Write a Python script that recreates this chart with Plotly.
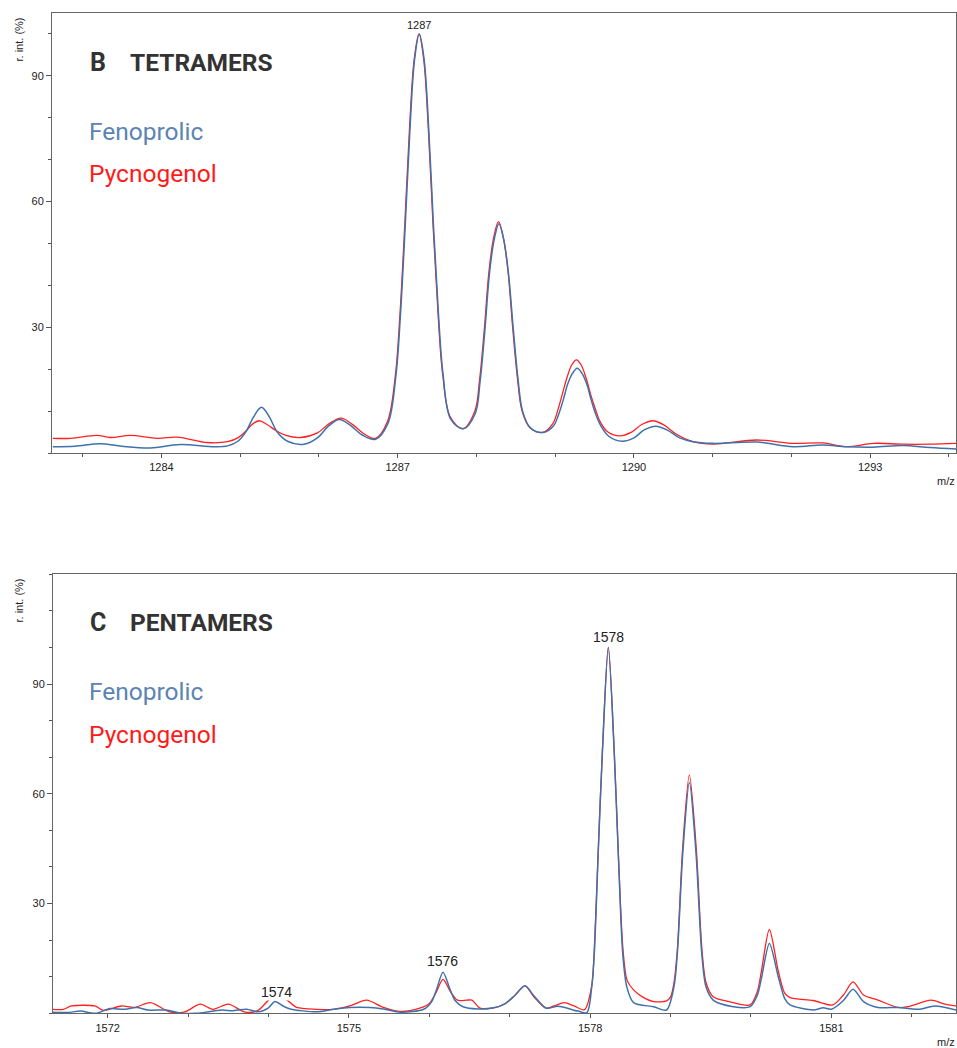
import plotly.graph_objects as go

W, H = 957, 1048

# ---------------- data: B TETRAMERS ----------------
tet_feno_mz = [1282.62, 1282.9, 1283.22, 1283.5, 1283.86, 1284.24, 1284.67, 1284.84, 1284.97, 1285.07,
               1285.17, 1285.27, 1285.37, 1285.47, 1285.6, 1285.81, 1285.98, 1286.12, 1286.26, 1286.4,
               1286.55, 1286.72, 1286.875, 1286.975, 1287.035, 1287.095, 1287.155, 1287.215, 1287.275, 1287.335,
               1287.395, 1287.455, 1287.515, 1287.575, 1287.675, 1287.835, 1287.986, 1288.046, 1288.106, 1288.166,
               1288.226, 1288.286, 1288.346, 1288.406, 1288.466, 1288.526, 1288.586, 1288.686, 1288.85, 1288.98,
               1289.04, 1289.1, 1289.16, 1289.22, 1289.28, 1289.34, 1289.4, 1289.46, 1289.52, 1289.58,
               1289.68, 1289.85, 1290.0, 1290.13, 1290.28, 1290.43, 1290.58, 1290.75, 1291.0, 1291.56,
               1292.02, 1292.4, 1292.7, 1293.04, 1293.42, 1293.76, 1294.12]
tet_feno_int = [1.5, 1.6, 2.2, 1.6, 1.2, 2.0, 1.5, 1.7, 2.8, 5.0,
                8.6, 10.9, 8.6, 5.0, 2.8, 2.1, 3.6, 6.4, 8.0, 6.6,
                4.3, 3.3, 7.0, 18.0, 33.0, 54.0, 77.0, 94.0, 100.0, 94.0,
                77.0, 54.0, 34.0, 19.0, 8.0, 5.8, 9.5, 17.0, 29.0, 43.0,
                51.0, 54.7, 51.0, 43.0, 30.0, 18.0, 10.0, 6.0, 4.9, 6.5,
                9.0, 12.5, 16.5, 19.0, 20.2, 19.0, 16.5, 12.5, 9.0, 6.5,
                4.0, 2.8, 3.6, 5.5, 6.4, 5.4, 3.6, 2.7, 2.3, 2.6,
                1.5, 1.9, 1.5, 1.4, 1.8, 1.3, 0.9]

tet_pyc_mz = [1282.62, 1282.85, 1283.18, 1283.35, 1283.6, 1283.95, 1284.2, 1284.58, 1284.84, 1284.97,
              1285.07, 1285.15, 1285.24, 1285.34, 1285.45, 1285.58, 1285.77, 1285.98, 1286.13, 1286.28,
              1286.42, 1286.57, 1286.72, 1286.87, 1286.97, 1287.03, 1287.09, 1287.15, 1287.21, 1287.27,
              1287.33, 1287.39, 1287.45, 1287.51, 1287.57, 1287.67, 1287.83, 1287.98, 1288.04, 1288.1,
              1288.16, 1288.22, 1288.28, 1288.34, 1288.4, 1288.46, 1288.52, 1288.58, 1288.68, 1288.84,
              1288.97, 1289.03, 1289.09, 1289.15, 1289.21, 1289.27, 1289.33, 1289.39, 1289.45, 1289.51,
              1289.57, 1289.67, 1289.82, 1289.97, 1290.1, 1290.24, 1290.38, 1290.53, 1290.75, 1291.0,
              1291.56, 1292.02, 1292.4, 1292.7, 1293.04, 1293.42, 1293.76, 1294.12]
tet_pyc_int = [3.5, 3.5, 4.2, 3.7, 4.2, 3.5, 3.8, 2.5, 2.7, 3.6,
               5.2, 6.8, 7.7, 6.8, 5.4, 4.2, 3.7, 4.8, 7.0, 8.3,
               6.9, 4.6, 3.5, 7.5, 18.5, 33.5, 54.5, 77.5, 94.0, 100.0,
               94.0, 77.0, 54.0, 34.0, 19.0, 8.5, 5.8, 10.0, 17.5, 29.5,
               43.5, 51.5, 55.2, 51.5, 43.5, 30.0, 18.0, 10.0, 6.0, 4.9,
               7.0, 10.0, 14.0, 18.0, 21.0, 22.2, 21.0, 18.0, 14.0, 10.5,
               7.5, 5.0, 4.1, 5.0, 6.8, 7.7, 6.7, 4.6, 2.7, 2.1,
               3.1, 2.3, 2.4, 1.5, 2.3, 2.1, 2.1, 2.3]

# ---------------- data: C PENTAMERS ----------------
pen_feno_mz = [1571.32, 1571.5, 1571.66, 1571.85, 1572.03, 1572.2, 1572.36, 1572.5, 1572.73, 1572.9,
               1573.1, 1573.42, 1573.55, 1573.73, 1573.87, 1574.0, 1574.08, 1574.18, 1574.27, 1574.6,
               1574.81, 1575.01, 1575.26, 1575.43, 1575.64, 1575.93, 1576.03, 1576.09, 1576.17, 1576.25,
               1576.32, 1576.42, 1576.6, 1576.8, 1576.94, 1577.06, 1577.19, 1577.3, 1577.455, 1577.6,
               1577.85, 1577.96, 1578.02, 1578.052, 1578.1, 1578.152, 1578.226, 1578.3, 1578.35, 1578.405,
               1578.455, 1578.54, 1578.79, 1578.95, 1579.043, 1579.085, 1579.152, 1579.234, 1579.317, 1579.388,
               1579.44, 1579.53, 1579.78, 1579.99, 1580.08, 1580.134, 1580.229, 1580.34, 1580.42, 1580.486,
               1580.776, 1580.9, 1581.0, 1581.15, 1581.27, 1581.4, 1581.58, 1581.83, 1582.08, 1582.29,
               1582.55]
pen_feno_int = [0.3, 0.2, 0.6, 0.0, 1.3, 1.1, 1.6, 0.9, 0.9, 0.1,
                0.0, 0.9, 0.7, 1.1, 0.4, 1.5, 3.2, 2.0, 1.2, 0.4,
                1.1, 1.6, 1.6, 1.2, 0.3, 1.1, 3.2, 6.5, 11.2, 7.0,
                3.5, 1.8, 1.2, 1.5, 2.6, 4.8, 7.5, 4.8, 1.4, 1.9,
                0.6, 0.2, 7.3, 16.4, 43.7, 71.0, 100.0, 71.0, 43.7, 16.4,
                7.3, 2.9, 1.8, 0.9, 7.3, 16.4, 43.7, 63.1, 43.7, 16.4,
                7.3, 3.6, 1.8, 1.8, 5.0, 10.0, 19.1, 10.0, 4.0, 2.3,
                0.9, 1.5, 1.1, 3.5, 6.6, 3.2, 1.6, 1.6, 1.1, 2.0,
                0.9]

pen_pyc_mz = [1571.32, 1571.45, 1571.55, 1571.84, 1571.95, 1572.17, 1572.33, 1572.53, 1572.77, 1572.96,
              1573.15, 1573.31, 1573.5, 1573.71, 1573.87, 1574.0, 1574.1, 1574.23, 1574.35, 1574.6,
              1574.81, 1575.01, 1575.22, 1575.43, 1575.64, 1575.88, 1576.0, 1576.08, 1576.17, 1576.26,
              1576.35, 1576.465, 1576.53, 1576.63, 1576.8, 1576.94, 1577.06, 1577.19, 1577.3, 1577.45,
              1577.55, 1577.68, 1577.8, 1577.93, 1578.02, 1578.05, 1578.1, 1578.152, 1578.226, 1578.3,
              1578.35, 1578.41, 1578.46, 1578.54, 1578.65, 1578.79, 1578.95, 1579.0, 1579.04, 1579.085,
              1579.15, 1579.234, 1579.32, 1579.39, 1579.44, 1579.53, 1579.73, 1579.99, 1580.08, 1580.13,
              1580.229, 1580.34, 1580.42, 1580.486, 1580.776, 1581.02, 1581.15, 1581.27, 1581.4, 1581.58,
              1581.83, 1581.95, 1582.24, 1582.4, 1582.55]
pen_pyc_int = [1.1, 1.1, 2.0, 2.0, 0.8, 2.0, 1.6, 2.9, 0.4, 0.4,
               2.5, 1.1, 2.5, 0.3, 0.8, 3.6, 5.0, 3.6, 1.6, 1.1,
               1.1, 2.0, 3.6, 1.6, 0.5, 1.4, 2.7, 5.5, 9.3, 6.0,
               3.6, 3.6, 3.6, 1.4, 1.5, 2.6, 4.8, 7.5, 4.5, 1.4,
               2.0, 2.9, 2.0, 1.0, 7.5, 16.6, 44.0, 71.5, 100.0, 71.5,
               44.0, 17.0, 9.0, 6.4, 4.5, 3.2, 3.4, 4.5, 8.0, 17.5,
               45.0, 65.1, 45.0, 17.5, 8.5, 4.5, 3.2, 2.3, 6.0, 11.5,
               22.9, 11.5, 5.5, 4.3, 3.5, 2.3, 5.0, 8.6, 5.0, 3.6,
               1.6, 1.8, 3.6, 2.6, 2.0]

# axis settings
tet_xrange = [1282.61, 1294.09]
tet_yrange = [0, 105]
tet_xticks = [1284, 1287, 1290, 1293]
tet_yticks = [30, 60, 90]
pen_xrange = [1571.32, 1582.55]
pen_yrange = [0, 120]
pen_xticks = [1572, 1575, 1578, 1581]
pen_yticks = [30, 60, 90]

# peak labels
tet_peak_labels = [("1287", 1287.275, 102.1)]
pen_peak_labels = [("1578", 1578.226, 102.9), ("1576", 1576.17, 14.4), ("1574", 1574.10, 5.9)]

BLUE = "#3f72aa"
RED = "#ff2020"
TICKFONT = dict(family="Liberation Sans, Arial, sans-serif", size=11, color="#222")

fig = go.Figure()
fig.add_trace(go.Scatter(x=tet_pyc_mz, y=tet_pyc_int, mode="lines", line=dict(color=RED, width=1.3, shape="spline", smoothing=1.0),
                         xaxis="x", yaxis="y", showlegend=False))
fig.add_trace(go.Scatter(x=tet_feno_mz, y=tet_feno_int, mode="lines", line=dict(color=BLUE, width=1.5, shape="spline", smoothing=1.0),
                         xaxis="x", yaxis="y", showlegend=False))
fig.add_trace(go.Scatter(x=pen_pyc_mz, y=pen_pyc_int, mode="lines", line=dict(color=RED, width=1.3, shape="spline", smoothing=0.8),
                         xaxis="x2", yaxis="y2", showlegend=False))
fig.add_trace(go.Scatter(x=pen_feno_mz, y=pen_feno_int, mode="lines", line=dict(color=BLUE, width=1.5, shape="spline", smoothing=0.8),
                         xaxis="x2", yaxis="y2", showlegend=False))


def px(xp):
    return xp / W


def py(yp):
    return 1 - yp / H


axis_common = dict(showgrid=False, zeroline=False, showline=True, linecolor="#666", linewidth=1, mirror=True,
                   ticks="outside", tickcolor="#555", tickfont=TICKFONT)

fig.update_layout(
    width=W, height=H, margin=dict(l=0, r=0, t=0, b=0),
    paper_bgcolor="white", plot_bgcolor="white",
    xaxis=dict(domain=[px(52), px(956)], range=tet_xrange, tickvals=tet_xticks, ticklen=4,
               minor=dict(dtick=1, tick0=1284, ticklen=3, ticks="outside", tickcolor="#555"),
               anchor="y", **axis_common),
    yaxis=dict(domain=[py(453), py(13)], range=tet_yrange, tickvals=tet_yticks, ticklen=5,
               minor=dict(dtick=10, tick0=0, ticklen=3, ticks="outside", tickcolor="#555"),
               anchor="x", **axis_common),
    xaxis2=dict(domain=[px(53), px(956)], range=pen_xrange, tickvals=pen_xticks, ticklen=4,
                minor=dict(dtick=1, tick0=1572, ticklen=3, ticks="outside", tickcolor="#555"),
                anchor="y2", **axis_common),
    yaxis2=dict(domain=[py(1013.3), py(574.3)], range=pen_yrange, tickvals=pen_yticks, ticklen=5,
                minor=dict(dtick=10, tick0=0, ticklen=3, ticks="outside", tickcolor="#555"),
                anchor="x2", **axis_common),
)

ann = []
# panel titles and legend texts
for (letter, word, ytitle, yfeno, ypyc) in [("B", "TETRAMERS", 63, 131, 173.5), ("C", "PENTAMERS", 622.5, 691, 734)]:
    ann.append(dict(text="<b>" + letter + "</b>", x=px(89), y=py(ytitle), xref="paper", yref="paper", xanchor="left", yanchor="middle",
                    showarrow=False, font=dict(family="Roboto", size=25, color="#333"), borderpad=0))
    ann.append(dict(text="<b>" + word + "</b>", x=px(129), y=py(ytitle), xref="paper", yref="paper", xanchor="left", yanchor="middle",
                    showarrow=False, font=dict(family="Roboto", size=24.5, color="#333"), borderpad=0))
    ann.append(dict(text="Fenoprolic", x=px(88), y=py(yfeno), xref="paper", yref="paper", xanchor="left", yanchor="middle",
                    showarrow=False, font=dict(family="Roboto", size=24.5, color="#5b84b3"), borderpad=0))
    ann.append(dict(text="Pycnogenol", x=px(88), y=py(ypyc), xref="paper", yref="paper", xanchor="left", yanchor="middle",
                    showarrow=False, font=dict(family="Roboto", size=24.5, color="#ff1a1a"), borderpad=0))

# axis titles
for (yc, ym) in [(40, 481), (601, 1041.5)]:
    ann.append(dict(text="r. int. (%)", x=px(18.5), y=py(yc), xref="paper", yref="paper", xanchor="center", yanchor="middle",
                    textangle=-90, showarrow=False, font=dict(family="Liberation Sans, Arial", size=11, color="#222")))
    ann.append(dict(text="m/z", x=px(946), y=py(ym), xref="paper", yref="paper", xanchor="center", yanchor="middle",
                    showarrow=False, font=dict(family="Liberation Sans, Arial", size=11, color="#222")))

for (t, xv, yv) in tet_peak_labels:
    ann.append(dict(text=t, x=xv, y=yv, xref="x", yref="y", xanchor="center", yanchor="middle", showarrow=False,
                    font=dict(family="Liberation Sans, Arial", size=11, color="#222")))
for (t, xv, yv) in pen_peak_labels:
    a = dict(text=t, x=xv, y=yv, xref="x2", yref="y2", xanchor="center", yanchor="middle", showarrow=False,
             font=dict(family="Liberation Sans, Arial", size=14, color="#222"), borderpad=0)
    if t == "1574":
        a["bgcolor"] = "white"
    ann.append(a)

fig.update_layout(annotations=ann)
fig.write_html("out.html")
